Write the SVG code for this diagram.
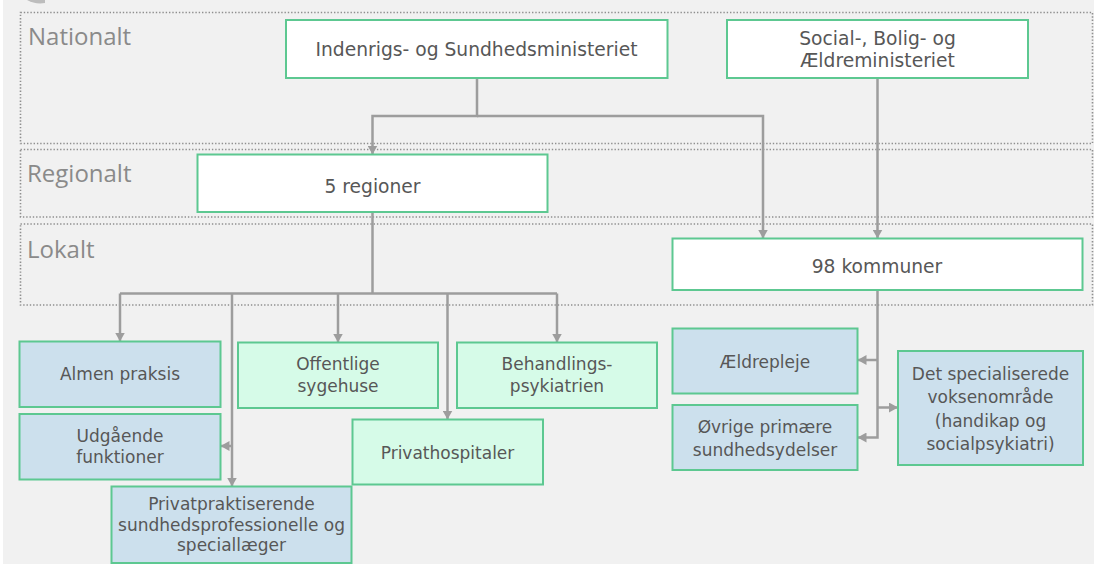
<svg xmlns="http://www.w3.org/2000/svg" width="1094" height="564" viewBox="0 0 1094 564">
  <defs>
    <marker id="arr" viewBox="0 0 9 10" markerWidth="9" markerHeight="10" refX="9" refY="5" orient="auto" markerUnits="userSpaceOnUse">
      <path d="M0,0 L9,5 L0,10 Z" fill="#9d9d9d"/>
    </marker>
    <style>
      .band { fill: none; stroke: #8f8f8f; stroke-width: 1.6; stroke-dasharray: 1.4 1.9; }
      .zone { font-family: "Open Sans", "DejaVu Sans", sans-serif; font-size: 24px; fill: #8a8a8a; }
      .top { fill: #ffffff; stroke: #5dc891; stroke-width: 2; }
      .green { fill: #d6fbe8; stroke: #5dc891; stroke-width: 2; }
      .blue { fill: #cce0ed; stroke: #5dc891; stroke-width: 2; }
      .t { font-family: "DejaVu Sans", "Open Sans", sans-serif; font-size: 18.7px; fill: #575757; text-anchor: middle; }
      .s { font-family: "DejaVu Sans", "Open Sans", sans-serif; font-size: 17px; fill: #575757; text-anchor: middle; }
      .c { fill: none; stroke: #9d9d9d; stroke-width: 2.5; }
    </style>
  </defs>

  <rect x="0" y="0" width="1094" height="564" fill="#ffffff"/>
  <rect x="3" y="0" width="1091" height="564" fill="#f1f1f1"/>
  <path d="M27,0 Q35,4.5 45,3 L45,0 Z" fill="#bdbdbd"/>

  <g id="bands">
    <rect class="band" x="20.5" y="12.5" width="1072" height="131"/>
    <rect class="band" x="20.5" y="149.5" width="1072" height="67.5"/>
    <rect class="band" x="20.5" y="224" width="1072" height="81"/>
    <text class="zone" x="28" y="45">Nationalt</text>
    <text class="zone" x="27" y="182">Regionalt</text>
    <text class="zone" x="27" y="258">Lokalt</text>
  </g>

  <g id="connectors">
    <path class="c" d="M477,78 V116 H372.5 V154.5" marker-end="url(#arr)"/>
    <path class="c" d="M477,116 H763 V238.5" marker-end="url(#arr)"/>
    <path class="c" d="M877.5,78 V238.5" marker-end="url(#arr)"/>
    <path class="c" d="M372.5,212 V293.5"/>
    <path class="c" d="M120,293.5 H557"/>
    <path class="c" d="M120,293.5 V341.5" marker-end="url(#arr)"/>
    <path class="c" d="M338,293.5 V342.5" marker-end="url(#arr)"/>
    <path class="c" d="M557,293.5 V342.5" marker-end="url(#arr)"/>
    <path class="c" d="M447.5,293.5 V419.5" marker-end="url(#arr)"/>
    <path class="c" d="M232,293.5 V486.5" marker-end="url(#arr)"/>
    <path class="c" d="M232,446 H220.5" marker-end="url(#arr)"/>
    <path class="c" d="M877.5,290 V437.5 H857.5" marker-end="url(#arr)"/>
    <path class="c" d="M877.5,360 H857.5" marker-end="url(#arr)"/>
    <path class="c" d="M877.5,407.5 H898" marker-end="url(#arr)"/>
  </g>

  <g id="indenrigs">
    <rect class="top" x="286" y="20" width="381.5" height="58"/>
    <text class="t" x="476.5" y="56">Indenrigs- og Sundhedsministeriet</text>
  </g>
  <g id="social">
    <rect class="top" x="727" y="20" width="301" height="58"/>
    <text class="t" x="877.5" y="44.5">Social-, Bolig- og</text>
    <text class="t" x="877.5" y="66.5">Ældreministeriet</text>
  </g>
  <g id="regioner">
    <rect class="top" x="197.5" y="154.5" width="350" height="57.5"/>
    <text class="t" x="372.5" y="192.5">5 regioner</text>
  </g>
  <g id="kommuner">
    <rect class="top" x="672.5" y="238.5" width="410" height="51.5"/>
    <text class="t" x="877" y="273">98 kommuner</text>
  </g>

  <g id="almen">
    <rect class="blue" x="19.5" y="341.5" width="201" height="65.5"/>
    <text class="s" x="120" y="380">Almen praksis</text>
  </g>
  <g id="udgaaende">
    <rect class="blue" x="19.5" y="414" width="201" height="65.5"/>
    <text class="s" x="120" y="442">Udgående</text>
    <text class="s" x="120" y="463">funktioner</text>
  </g>
  <g id="offentlige">
    <rect class="green" x="238" y="342.5" width="200" height="65.5"/>
    <text class="s" x="338" y="370">Offentlige</text>
    <text class="s" x="338" y="392">sygehuse</text>
  </g>
  <g id="behandling">
    <rect class="green" x="457" y="342.5" width="200" height="65.5"/>
    <text class="s" x="557" y="370">Behandlings-</text>
    <text class="s" x="557" y="392">psykiatrien</text>
  </g>
  <g id="privathospitaler">
    <rect class="green" x="352.5" y="419.5" width="190.5" height="65"/>
    <text class="s" x="447.5" y="459">Privathospitaler</text>
  </g>
  <g id="privatpraktiserende">
    <rect class="blue" x="111.5" y="486.5" width="240" height="76.5"/>
    <text class="s" x="231.5" y="510">Privatpraktiserende</text>
    <text class="s" x="231.5" y="530.5">sundhedsprofessionelle og</text>
    <text class="s" x="231.5" y="551">speciallæger</text>
  </g>
  <g id="aeldrepleje">
    <rect class="blue" x="672.5" y="328.5" width="185" height="65"/>
    <text class="s" x="765" y="368">Ældrepleje</text>
  </g>
  <g id="oevrige">
    <rect class="blue" x="672.5" y="405" width="185" height="65"/>
    <text class="s" x="765" y="433">Øvrige primære</text>
    <text class="s" x="765" y="456">sundhedsydelser</text>
  </g>
  <g id="specialiserede">
    <rect class="blue" x="898" y="351" width="185" height="114"/>
    <text class="s" x="990.5" y="380">Det specialiserede</text>
    <text class="s" x="990.5" y="403">voksenområde</text>
    <text class="s" x="990.5" y="426.5">(handikap og</text>
    <text class="s" x="990.5" y="450">socialpsykiatri)</text>
  </g>
</svg>
